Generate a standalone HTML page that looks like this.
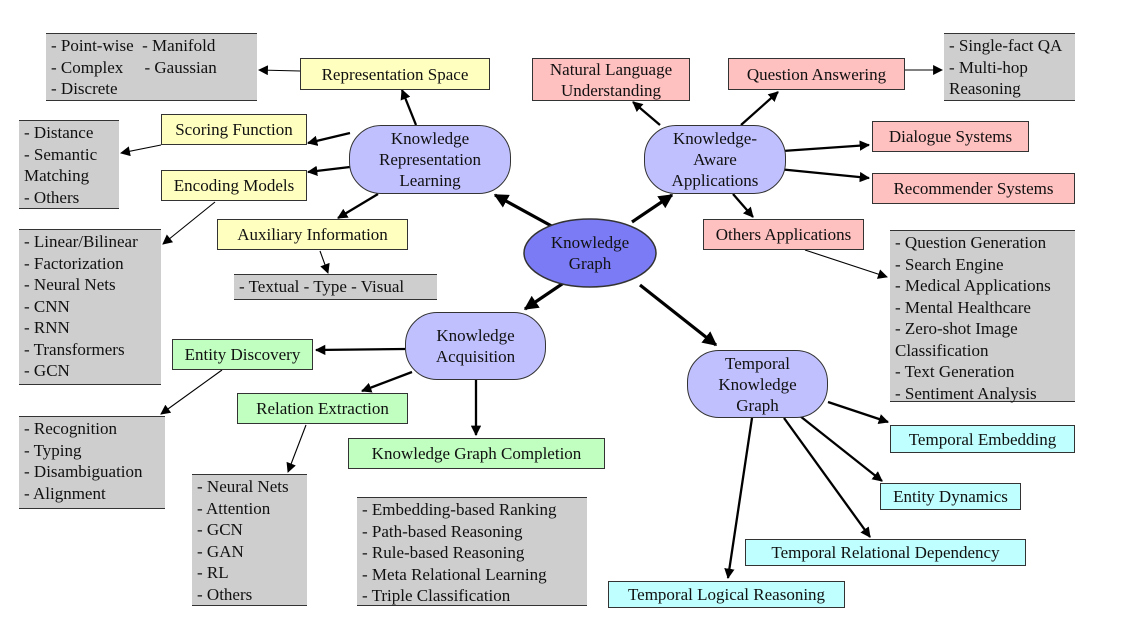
<!DOCTYPE html>
<html><head><meta charset="utf-8"><style>
body{margin:0;background:#fff;}
#c{position:relative;width:1131px;height:620px;overflow:hidden;font-family:"Liberation Serif","DejaVu Serif",serif;font-size:17px;color:#111;}
.b{position:absolute;box-sizing:border-box;display:flex;align-items:center;justify-content:center;text-align:center;line-height:21px;}
.y{background:#ffffc0;border:1.5px solid #333;}
.p{background:#ffc0c0;border:1.5px solid #333;}
.g{background:#c0ffc0;border:1.5px solid #333;}
.c{background:#c0ffff;border:1.5px solid #333;}
.r{background:#c0c0ff;border:1.5px solid #333;}
.l{position:absolute;box-sizing:border-box;background:#cecece;border-top:1.5px solid #333;border-bottom:1.5px solid #333;line-height:21.5px;padding:1px 0 0 5px;white-space:nowrap;}
svg{position:absolute;left:0;top:0;}
</style></head><body><div id="c">
<svg width="1131" height="620">
<defs>
<marker id="a" viewBox="0 0 10 10" refX="9" refY="5" markerWidth="4.5" markerHeight="4.5" orient="auto" markerUnits="strokeWidth"><path d="M0,0L10,5L0,10z" fill="#000"/></marker>
<marker id="t" viewBox="0 0 10 10" refX="9" refY="5" markerWidth="11" markerHeight="9" orient="auto" markerUnits="strokeWidth"><path d="M0,0L10,5L0,10z" fill="#000"/></marker>
</defs>
<g stroke="#000" stroke-width="3.2" marker-end="url(#a)">
<line x1="557" y1="229" x2="495" y2="195"/>
<line x1="632" y1="222" x2="672" y2="195"/>
<line x1="565" y1="282" x2="525" y2="309"/>
<line x1="640" y1="285" x2="716" y2="345"/>
</g>
<g stroke="#000" stroke-width="2.3" marker-end="url(#a)">
<line x1="416" y1="125" x2="402" y2="90"/>
<line x1="350" y1="133" x2="308" y2="143"/>
<line x1="350" y1="167" x2="308" y2="172"/>
<line x1="378" y1="194" x2="338" y2="218"/>
<line x1="660" y1="125" x2="633" y2="102"/>
<line x1="741" y1="125" x2="778" y2="92"/>
<line x1="768" y1="152" x2="869" y2="145"/>
<line x1="768" y1="168" x2="869" y2="178"/>
<line x1="733" y1="194" x2="753" y2="217"/>
<line x1="405" y1="349" x2="316" y2="350"/>
<line x1="412" y1="372" x2="362" y2="391"/>
<line x1="476" y1="380" x2="476" y2="435"/>
<line x1="828" y1="402" x2="888" y2="422"/>
<line x1="800" y1="416" x2="882" y2="481"/>
<line x1="784" y1="418" x2="870" y2="537"/>
<line x1="752" y1="418" x2="728" y2="578"/>
</g>
<g stroke="#000" stroke-width="1.1" marker-end="url(#t)">
<line x1="300" y1="71" x2="259" y2="70"/>
<line x1="161" y1="145" x2="121" y2="153"/>
<line x1="215" y1="202" x2="163" y2="244"/>
<line x1="320" y1="251" x2="328" y2="273"/>
<line x1="905" y1="70" x2="942" y2="70"/>
<line x1="805" y1="250" x2="887" y2="277"/>
<line x1="222" y1="370" x2="161" y2="414"/>
<line x1="306" y1="425" x2="288" y2="472"/>
</g>
<ellipse cx="590" cy="253" rx="66" ry="34" fill="#7b7bf5" stroke="#333" stroke-width="1.5"/>
</svg>
<div class="b" style="left:524px;top:232px;width:132px;height:42px;">Knowledge<br>Graph</div>

<div class="l" style="left:46px;top:33px;width:211px;height:68px;">- Point-wise&nbsp; - Manifold<br>- Complex&nbsp;&nbsp;&nbsp;&nbsp; - Gaussian<br>- Discrete</div>
<div class="b y" style="left:300px;top:58px;width:190px;height:32px;">Representation Space</div>
<div class="b y" style="left:161px;top:114px;width:146px;height:31px;">Scoring Function</div>
<div class="b y" style="left:161px;top:170px;width:146px;height:31px;">Encoding Models</div>
<div class="l" style="left:19px;top:120px;width:100px;height:89px;">- Distance<br>- Semantic<br>Matching<br>- Others</div>
<div class="l" style="left:19px;top:229px;width:142px;height:156px;">- Linear/Bilinear<br>- Factorization<br>- Neural Nets<br>- CNN<br>- RNN<br>- Transformers<br>- GCN</div>
<div class="b y" style="left:217px;top:219px;width:191px;height:31px;">Auxiliary Information</div>
<div class="l" style="left:234px;top:274px;width:203px;height:26px;line-height:22px;">- Textual - Type - Visual</div>
<div class="b r" style="left:349px;top:125px;width:162px;height:69px;border-radius:32px;">Knowledge<br>Representation<br>Learning</div>

<div class="b p" style="left:532px;top:58px;width:158px;height:43px;">Natural Language<br>Understanding</div>
<div class="b p" style="left:728px;top:58px;width:177px;height:32px;">Question Answering</div>
<div class="l" style="left:944px;top:33px;width:131px;height:68px;">- Single-fact QA<br>- Multi-hop<br>Reasoning</div>
<div class="b r" style="left:644px;top:125px;width:142px;height:69px;border-radius:32px;">Knowledge-<br>Aware<br>Applications</div>
<div class="b p" style="left:872px;top:121px;width:157px;height:31px;">Dialogue Systems</div>
<div class="b p" style="left:872px;top:173px;width:203px;height:31px;">Recommender Systems</div>
<div class="b p" style="left:703px;top:219px;width:161px;height:31px;">Others Applications</div>
<div class="l" style="left:890px;top:230px;width:185px;height:172px;">- Question Generation<br>- Search Engine<br>- Medical Applications<br>- Mental Healthcare<br>- Zero-shot Image<br>Classification<br>- Text Generation<br>- Sentiment Analysis</div>

<div class="b r" style="left:405px;top:312px;width:141px;height:68px;border-radius:32px;">Knowledge<br>Acquisition</div>
<div class="b g" style="left:172px;top:339px;width:141px;height:31px;">Entity Discovery</div>
<div class="b g" style="left:237px;top:393px;width:171px;height:31px;">Relation Extraction</div>
<div class="b g" style="left:348px;top:438px;width:257px;height:31px;">Knowledge Graph Completion</div>
<div class="l" style="left:19px;top:416px;width:146px;height:93px;">- Recognition<br>- Typing<br>- Disambiguation<br>- Alignment</div>
<div class="l" style="left:192px;top:474px;width:115px;height:132px;">- Neural Nets<br>- Attention<br>- GCN<br>- GAN<br>- RL<br>- Others</div>
<div class="l" style="left:357px;top:497px;width:230px;height:109px;">- Embedding-based Ranking<br>- Path-based Reasoning<br>- Rule-based Reasoning<br>- Meta Relational Learning<br>- Triple Classification</div>

<div class="b r" style="left:687px;top:350px;width:141px;height:68px;border-radius:32px;">Temporal<br>Knowledge<br>Graph</div>
<div class="b c" style="left:890px;top:425px;width:185px;height:28px;">Temporal Embedding</div>
<div class="b c" style="left:880px;top:483px;width:141px;height:27px;">Entity Dynamics</div>
<div class="b c" style="left:745px;top:539px;width:281px;height:27px;">Temporal Relational Dependency</div>
<div class="b c" style="left:608px;top:581px;width:237px;height:27px;">Temporal Logical Reasoning</div>
</div></body></html>
